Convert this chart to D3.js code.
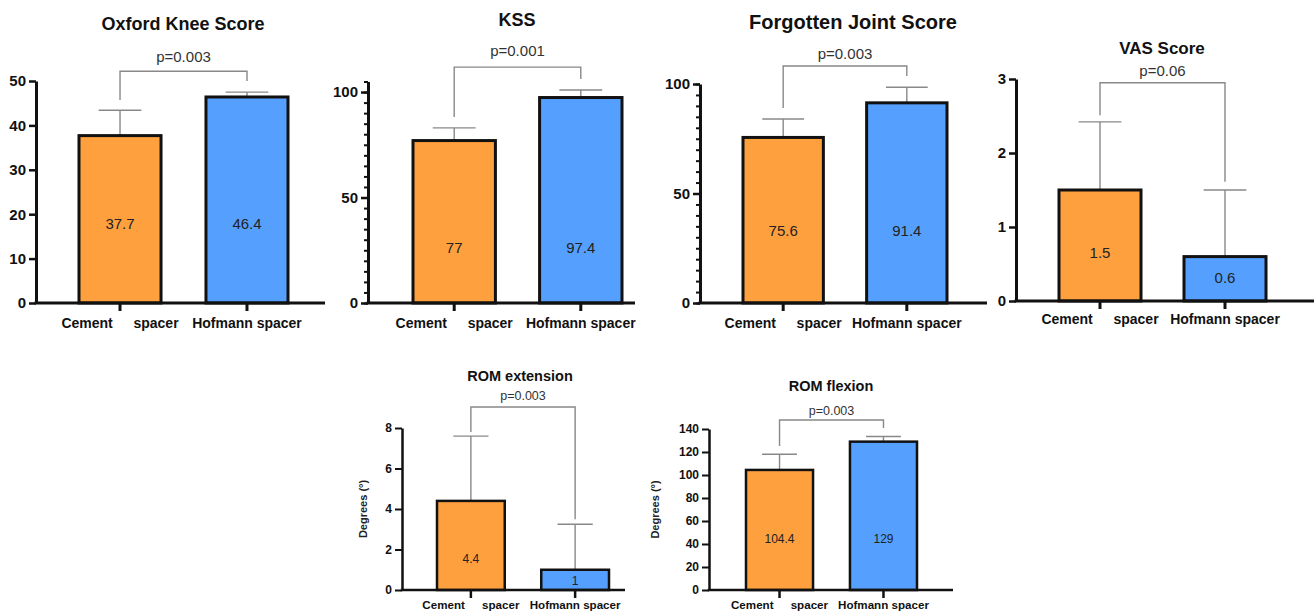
<!DOCTYPE html>
<html><head><meta charset="utf-8">
<script src="https://cdn.jsdelivr.net/npm/d3@7"></script>
<style>
body{margin:0;background:#fff}
svg{display:block}
text{font-family:"Liberation Sans",Arial,Helvetica,sans-serif}
</style>
</head><body>
<svg id="chart" width="1314" height="612"></svg>
<script>
// ---------- data ----------
const categories = ["Cement spacer", "Hofmann spacer"];
const titles = ["Oxford Knee Score", "KSS", "Forgotten Joint Score", "VAS Score", "ROM extension", "ROM flexion"];
const pLabels = ["p=0.003", "p=0.001", "p=0.003", "p=0.06", "p=0.003", "p=0.003"];
const valueLabels = [["37.7", "46.4"], ["77", "97.4"], ["75.6", "91.4"], ["1.5", "0.6"], ["4.4", "1"], ["104.4", "129"]];

const oksMean = [37.7, 46.4],  oksUpper = [43.4, 47.5];
const kssMean = [77, 97.4],    kssUpper = [83, 101];
const fjsMean = [75.6, 91.4],  fjsUpper = [84, 98.5];
const vasMean = [1.5, 0.6],    vasUpper = [2.42, 1.5];
const extMean = [4.4, 1],      extUpper = [7.6, 3.25];
const flexMean = [104.4, 129], flexUpper = [118, 133.5];

const oksTicks = [0, 10, 20, 30, 40, 50];
const kssTicks = [0, 50, 100];
const fjsTicks = [0, 50, 100];
const vasTicks = [0, 1, 2, 3];
const extTicks = [0, 2, 4, 6, 8];
const flexTicks = [0, 20, 40, 60, 80, 100, 120, 140];
const kssMinor = d3.range(0, 106, 5);
const fjsMinor = d3.range(0, 101, 5);
const yAxisTitle = "Degrees (°)";

// bracket: [bar y, left leg end, right leg end] in data units
const oksBracket = [52.2, 45.7, 50];
const kssBracket = [111.8, 88.2, 106.2];
const fjsBracket = [108.2, 89, 103.7];
const vasBracket = [2.95, 2.51, 1.61];
const extBracket = [9.04, 7.8, 3.5];
const flexBracket = [147.8, 125.2, 140.9];

// ---------- layout ----------
const colors = ["#FFA03F", "#55A0FF"];
const big = {tick: 15, cat: 14, val: 15, p: 15, axisW: 3, barW: 3};
const small = {tick: 12, cat: 11.6, val: 12, p: 12.5, axisW: 2.5, barW: 2.5};

const panels = [
  {mean: oksMean, upper: oksUpper, ticks: oksTicks, minor: [], max: 50, bracket: oksBracket,
   ax: 36, end: 325, y0: 303, yTop: 81, bars: [79, 288], pad: 0.354,
   titleX: 183, titleY: 24, titleSize: 18, pY: 56, catY: 323, labelAt: [18, 18], st: big},
  {mean: kssMean, upper: kssUpper, ticks: kssTicks, minor: kssMinor, max: 105, bracket: kssBracket,
   ax: 368, end: 635, y0: 303, yTop: 81.5, bars: [413, 622], pad: 0.349,
   titleX: 517, titleY: 20, titleSize: 18, pY: 50, catY: 323, labelAt: [26.5, 26.5], st: big},
  {mean: fjsMean, upper: fjsUpper, ticks: fjsTicks, minor: fjsMinor, max: 100, bracket: fjsBracket,
   ax: 700, end: 987, y0: 303, yTop: 84, bars: [743, 947], pad: 0.35,
   titleX: 853, titleY: 22, titleSize: 20, pY: 53, catY: 323, labelAt: [33, 33], st: big},
  {mean: vasMean, upper: vasUpper, ticks: vasTicks, minor: [], max: 3, bracket: vasBracket,
   ax: 1016, end: 1314, y0: 301, yTop: 79, bars: [1059, 1266], pad: 0.344,
   titleX: 1162, titleY: 48, titleSize: 17, pY: 70, catY: 319, labelAt: [0.66, 0.32], st: big},
  {mean: extMean, upper: extUpper, ticks: extTicks, minor: [], max: 8, bracket: extBracket,
   ax: 402, end: 625, y0: 590, yTop: 428, bars: [437, 609], pad: 0.35,
   titleX: 520, titleY: 376, titleSize: 14.5, pY: 396, catY: 604, labelAt: [1.53, 0.44], st: small,
   yTitle: yAxisTitle, yTitleX: 363},
  {mean: flexMean, upper: flexUpper, ticks: flexTicks, minor: [], max: 140, bracket: flexBracket,
   ax: 709, end: 953, y0: 590, yTop: 429, bars: [746, 917], pad: 0.355,
   titleX: 831, titleY: 386, titleSize: 14.5, pY: 411, catY: 604, labelAt: [44.3, 44.3], st: small,
   yTitle: yAxisTitle, yTitleX: 655}
];

const svg = d3.select("#chart");

panels.forEach((p, i) => {
  const g = svg.append("g");
  const y = d3.scaleLinear().domain([0, p.max]).range([p.y0, p.yTop]);
  const x = d3.scaleBand().domain(categories).range(p.bars).paddingInner(p.pad).paddingOuter(0);
  const bw = x.bandwidth();
  const cx = c => x(c) + bw / 2;
  const st = p.st;

  // title
  g.append("text").attr("x", p.titleX).attr("y", p.titleY)
    .attr("text-anchor", "middle").attr("dominant-baseline", "central")
    .attr("font-weight", "bold").attr("font-size", p.titleSize).attr("fill", "#111")
    .text(titles[i]);

  // error bars (upper only)
  const eb = g.append("g").attr("stroke", "#888").attr("stroke-width", 1.4).attr("fill", "none");
  categories.forEach((c, k) => {
    eb.append("line").attr("x1", cx(c)).attr("x2", cx(c)).attr("y1", y(p.mean[k])).attr("y2", y(p.upper[k]));
    eb.append("line").attr("x1", cx(c) - bw * 0.26).attr("x2", cx(c) + bw * 0.26)
      .attr("y1", y(p.upper[k])).attr("y2", y(p.upper[k]));
  });

  // bracket
  const [by, bl, br] = p.bracket;
  const x1 = cx(categories[0]), x2 = cx(categories[1]);
  g.append("path")
    .attr("d", `M${x1},${y(bl)}V${y(by)}H${x2}V${y(br)}`)
    .attr("fill", "none").attr("stroke", "#888").attr("stroke-width", 1.4);
  g.append("text").attr("x", (x1 + x2) / 2).attr("y", p.pY)
    .attr("text-anchor", "middle").attr("dominant-baseline", "central")
    .attr("font-size", st.p).attr("fill", "#333").text(pLabels[i]);

  // bars
  g.selectAll("rect.bar").data(categories).join("rect").attr("class", "bar")
    .attr("x", c => x(c)).attr("width", bw)
    .attr("y", (c, k) => y(p.mean[k])).attr("height", (c, k) => y(0) - y(p.mean[k]))
    .attr("fill", (c, k) => colors[k]).attr("stroke", "#111").attr("stroke-width", st.barW);

  // value labels
  g.selectAll("text.val").data(categories).join("text").attr("class", "val")
    .attr("x", c => cx(c)).attr("y", (c, k) => y(p.labelAt[k]))
    .attr("text-anchor", "middle").attr("dominant-baseline", "central")
    .attr("font-size", st.val).attr("fill", "#222").text((c, k) => valueLabels[i][k]);

  // y axis minor ticks
  if (p.minor.length) {
    const mg = g.append("g").attr("transform", `translate(${p.ax},0)`)
      .call(d3.axisLeft(y).tickValues(p.minor).tickSize(4).tickSizeOuter(0).tickFormat(""));
    mg.select(".domain").remove();
    mg.selectAll("line").attr("stroke", "#111").attr("stroke-width", 2);
  }
  // y axis
  const ya = g.append("g").attr("transform", `translate(${p.ax},0)`)
    .call(d3.axisLeft(y).tickValues(p.ticks).tickSize(7).tickSizeOuter(0).tickPadding(3).tickFormat(d3.format("d")));
  ya.select(".domain").attr("stroke", "#111").attr("stroke-width", st.axisW);
  ya.selectAll("line").attr("stroke", "#111").attr("stroke-width", st.axisW - 0.5);
  ya.selectAll("text").attr("font-size", st.tick).attr("font-weight", "bold").attr("fill", "#111")
    .attr("font-family", "'Liberation Sans',Arial,sans-serif");

  // x axis line
  g.append("line").attr("x1", p.ax - st.axisW / 2).attr("x2", p.end).attr("y1", y(0)).attr("y2", y(0))
    .attr("stroke", "#111").attr("stroke-width", st.axisW);
  const xa = g.append("g").attr("transform", `translate(0,${y(0)})`)
    .call(d3.axisBottom(x).tickSize(8).tickSizeOuter(0).tickFormat(""));
  xa.select(".domain").remove();
  xa.selectAll("line").attr("stroke", "#111").attr("stroke-width", st.axisW);

  // category labels
  g.selectAll("text.cat").data(categories).join("text").attr("class", "cat")
    .attr("x", c => cx(c)).attr("y", p.catY)
    .attr("text-anchor", "middle").attr("dominant-baseline", "central")
    .attr("font-size", st.cat).attr("font-weight", "bold").attr("fill", "#111")
    .style("word-spacing", (c, k) => k === 0 ? (st.cat * 1.2) + "px" : "0px")
    .text(c => c);

  // y axis title
  if (p.yTitle) {
    g.append("text").attr("transform", `translate(${p.yTitleX},${(p.y0 + p.yTop) / 2}) rotate(-90)`)
      .attr("text-anchor", "middle").attr("dominant-baseline", "central")
      .attr("font-size", 11).attr("font-weight", "bold").attr("fill", "#222").text(p.yTitle);
  }
});
</script>
</body></html>
